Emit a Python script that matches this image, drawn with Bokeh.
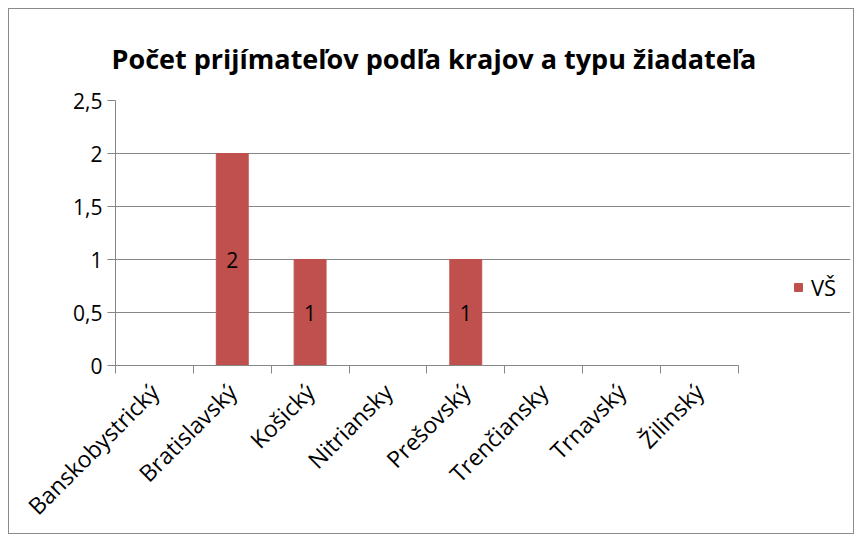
import math
from bokeh.plotting import figure
from bokeh.models import (Range1d, FixedTicker, LinearAxis, CustomJSTickFormatter,
                          ColumnDataSource, Legend, LegendItem)
from bokeh.embed import file_html
from bokeh.resources import INLINE
from bokeh.core.properties import value

categories = ["Banskobystrický", "Bratislavský", "Košický", "Nitriansky",
              "Prešovský", "Trenčiansky", "Trnavský", "Žilinský"]
vs_values = [0, 2, 1, 0, 1, 0, 0, 0]
y_ticks = [0, 0.5, 1, 1.5, 2, 2.5]
series_name = "VŠ"
title_text = "Počet prijímateľov podľa krajov a typu žiadateľa"

FONT = "Open Sans"
GRAY = "#868686"
RED = "#C0504D"

n = len(categories)
# frame extends past the category area so that the legend fits inside it
X_END = n * 733 / 621.0

p = figure(width=846, height=526, output_backend="svg", toolbar_location=None,
           x_range=Range1d(0, X_END), y_range=Range1d(0, 2.5),
           min_border_left=106, min_border_right=5, min_border_top=91,
           min_border_bottom=166, x_axis_location=None, y_axis_location=None,
           styles={"border": "1px solid #8a8a8a", "box-sizing": "border-box",
                   "margin-left": "8px", "margin-top": "8px"})
p.outline_line_color = None
p.xgrid.grid_line_color = None
p.ygrid.grid_line_color = GRAY
p.ygrid.ticker = FixedTicker(ticks=y_ticks)
p.ygrid.bounds = (0, n)

p.title.text = title_text
p.title.text_font = FONT
p.title.text_font_size = "27px"
p.title.text_font_style = "bold"
p.title.text_color = "black"
p.title.align = "left"
p.title.offset = -4
p.title.standoff = 48

# y axis
yax = LinearAxis(ticker=FixedTicker(ticks=y_ticks),
                 formatter=CustomJSTickFormatter(code="return tick.toString().replace('.', ',');"))
yax.axis_line_color = GRAY
yax.major_tick_line_color = GRAY
yax.major_tick_out = 8
yax.major_tick_in = 0
yax.minor_tick_line_color = None
yax.major_label_text_font = FONT
yax.major_label_text_font_size = "21px"
yax.major_label_text_color = "black"
yax.major_label_standoff = 5
p.add_layout(yax, "left")

# x axis: boundary ticks
xax = LinearAxis(ticker=FixedTicker(ticks=list(range(n + 1))),
                 formatter=CustomJSTickFormatter(code="return '';"), bounds=(0, n))
xax.axis_line_color = GRAY
xax.major_tick_line_color = GRAY
xax.major_tick_out = 8
xax.major_tick_in = 0
xax.minor_tick_line_color = None
xax.major_label_text_font_size = "1px"
xax.major_label_standoff = 0
p.add_layout(xax, "below")

# x axis: category labels
centers = [i + 0.5 for i in range(n)]
xlab = LinearAxis(ticker=FixedTicker(ticks=centers),
                  formatter=CustomJSTickFormatter(args=dict(names=categories),
                                                  code="return names[Math.floor(tick)];"))
xlab.axis_line_color = None
xlab.major_tick_line_color = None
xlab.minor_tick_line_color = None
xlab.major_label_orientation = math.pi / 4
xlab.major_label_text_font = FONT
xlab.major_label_text_font_size = "23px"
xlab.major_label_text_color = "black"
xlab.major_label_standoff = 8
p.add_layout(xlab, "below")

src = ColumnDataSource(dict(x=centers, top=vs_values,
                            mid=[v / 2 for v in vs_values],
                            lbl=[str(v) if v else "" for v in vs_values]))
bars = p.vbar(x="x", top="top", width=0.41, source=src, fill_color=RED, line_color=RED)
p.text(x="x", y="mid", text="lbl", source=src, text_align="center", text_baseline="middle",
       text_font=value(FONT), text_font_size="21px", text_color="black")

legend = Legend(items=[LegendItem(label=series_name, renderers=[bars])],
                location=(678, 63), border_line_color=None, background_fill_alpha=0,
                padding=0, margin=0, glyph_width=10, glyph_height=10, label_standoff=8,
                label_text_font=FONT, label_text_font_size="22px",
                label_text_color="black")
p.add_layout(legend, "center")

open("out.html", "w").write(file_html(p, INLINE))
